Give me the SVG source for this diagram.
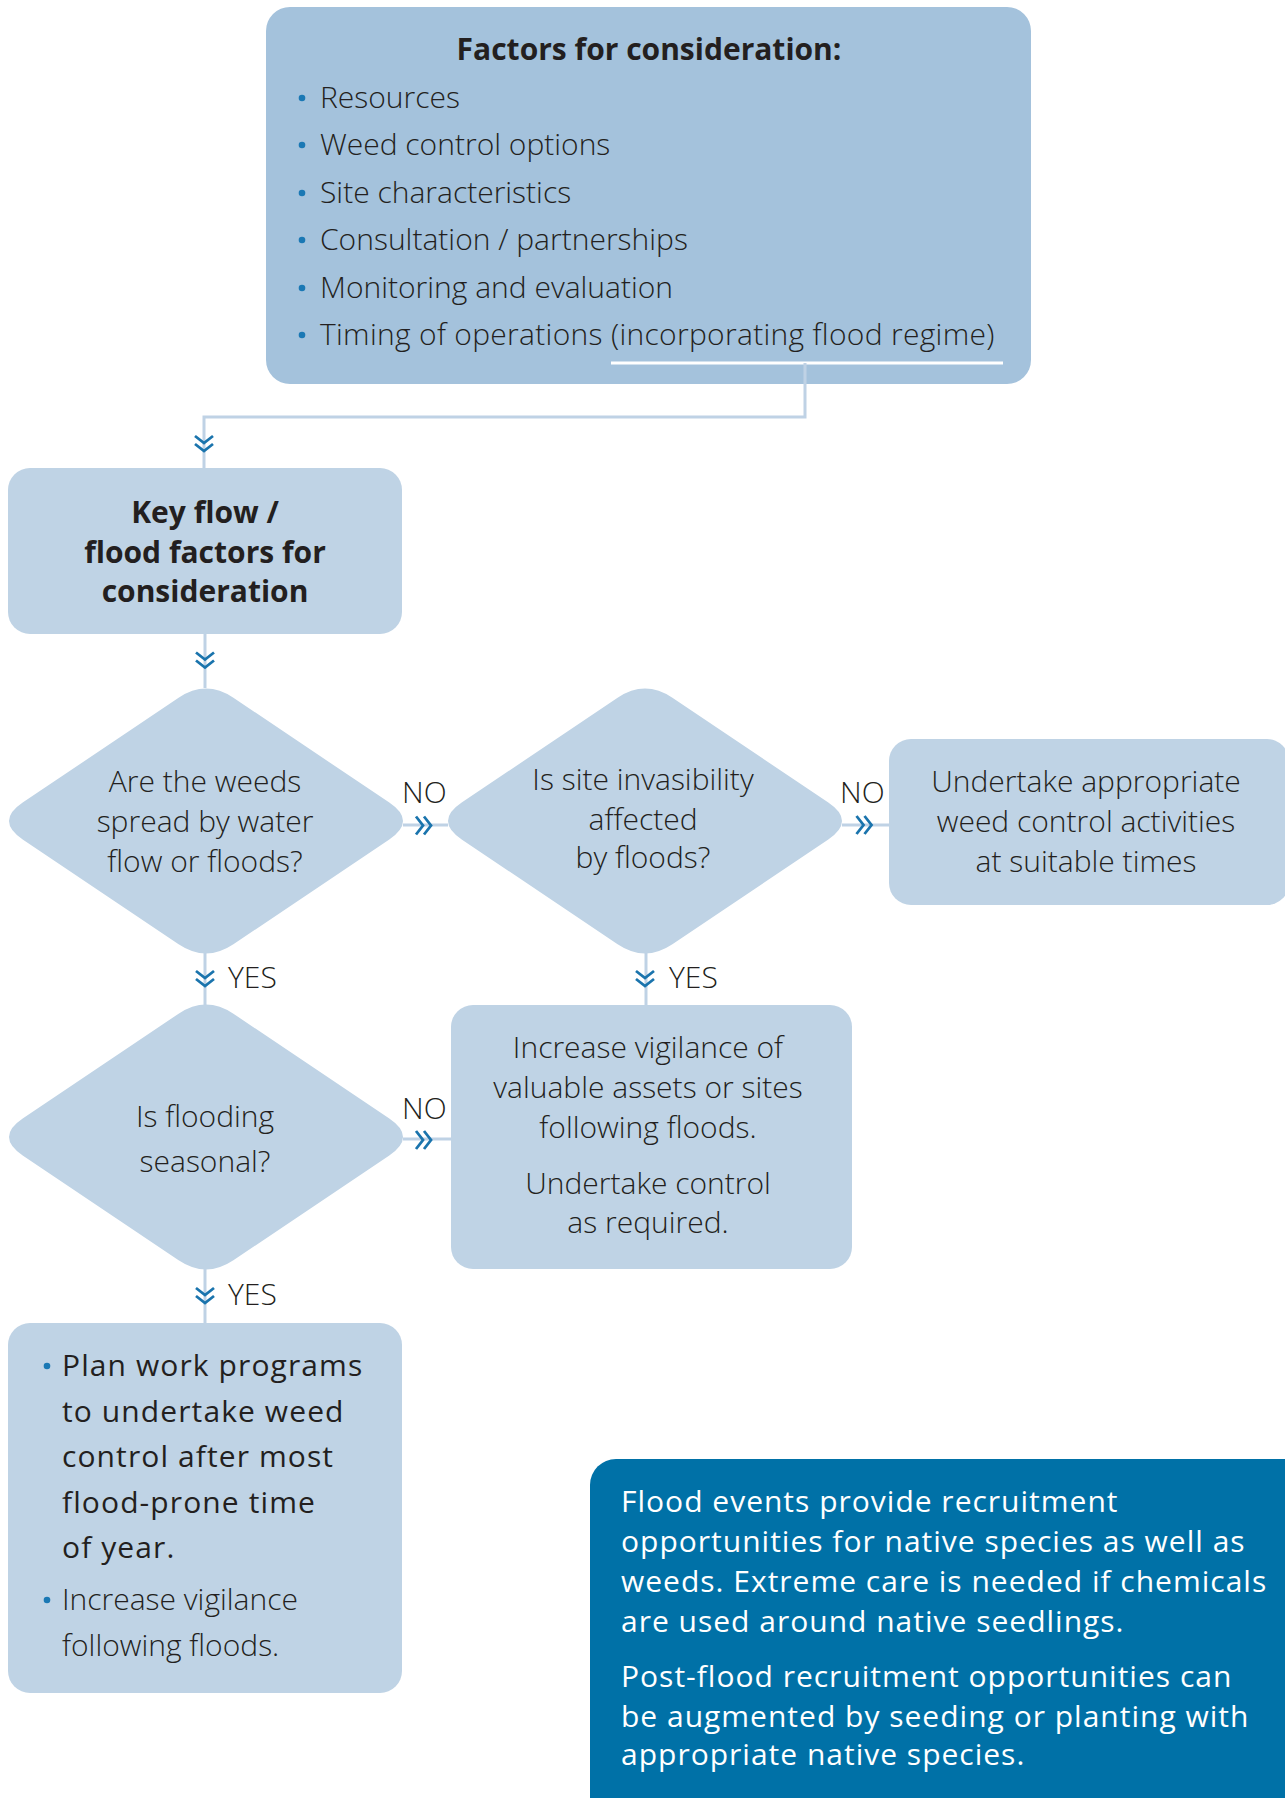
<svg xmlns="http://www.w3.org/2000/svg" width="1285" height="1798" viewBox="0 0 1285 1798">
<style>
.t{font-family:'Open Sans','Liberation Sans',sans-serif;fill:#231f20}
.lt{font-weight:300;font-size:30px}
.md{font-weight:500;font-size:30px;letter-spacing:1.1px}
.bd{font-weight:700;font-size:30px}
.c{text-anchor:middle}
.box{fill:#bfd3e5}
.top{fill:#a4c2dc}
.dot{fill:#1a78b4}
.ln{stroke:#bfd2e5;stroke-width:3;fill:none}
.ch{stroke:#1a74ad;stroke-width:2.8;fill:none}
.wt{font-family:'Open Sans','Liberation Sans',sans-serif;fill:#ffffff;font-weight:400;font-size:30px;letter-spacing:1px}
</style>
<defs>
<path id="chev" d="M-9,-7.5 L0,-0.5 L9,-7.5 M-9,0.5 L0,7.5 L9,0.5"/>
</defs>
<rect width="1285" height="1798" fill="#ffffff"/>

<g id="factors">
<rect class="top" x="266" y="7" width="765" height="377" rx="24"/>
<text class="t bd c" x="649" y="60">Factors for consideration:</text>
<circle class="dot" cx="302" cy="98" r="3.3"/>
<text class="t lt" x="320" y="108">Resources</text>
<circle class="dot" cx="302" cy="145" r="3.3"/>
<text class="t lt" x="320" y="155">Weed control options</text>
<circle class="dot" cx="302" cy="193" r="3.3"/>
<text class="t lt" x="320" y="203">Site characteristics</text>
<circle class="dot" cx="302" cy="240" r="3.3"/>
<text class="t lt" x="320" y="250">Consultation / partnerships</text>
<circle class="dot" cx="302" cy="288" r="3.3"/>
<text class="t lt" x="320" y="298">Monitoring and evaluation</text>
<circle class="dot" cx="302" cy="335" r="3.3"/>
<text class="t lt" x="320" y="345" letter-spacing="0.3">Timing of operations (incorporating flood regime)</text>
</g>

<g id="connectors">
<line x1="611" y1="363" x2="1003" y2="363" stroke="#ffffff" stroke-width="3"/>
<polyline class="ln" points="805,363 805,417 204,417 204,468"/>
<line class="ln" x1="205" y1="634" x2="205" y2="688"/>
<line class="ln" x1="403" y1="825" x2="448" y2="825"/>
<line class="ln" x1="842" y1="825" x2="889" y2="825"/>
<line class="ln" x1="205" y1="953" x2="205" y2="1005"/>
<line class="ln" x1="646" y1="953" x2="646" y2="1005"/>
<line class="ln" x1="403" y1="1139" x2="451" y2="1139"/>
<line class="ln" x1="205" y1="1268" x2="205" y2="1323"/>
<use href="#chev" class="ch" transform="translate(204,443.5)"/>
<use href="#chev" class="ch" transform="translate(205,660)"/>
<use href="#chev" class="ch" transform="translate(423.5,825.5) rotate(-90)"/>
<use href="#chev" class="ch" transform="translate(864,825) rotate(-90)"/>
<use href="#chev" class="ch" transform="translate(205,978.5)"/>
<use href="#chev" class="ch" transform="translate(645,978.5)"/>
<use href="#chev" class="ch" transform="translate(423.5,1140) rotate(-90)"/>
<use href="#chev" class="ch" transform="translate(205,1295.5)"/>
<text class="t lt" x="402" y="803">NO</text>
<text class="t lt" x="840" y="803">NO</text>
<text class="t lt" x="228" y="988">YES</text>
<text class="t lt" x="669" y="988">YES</text>
<text class="t lt" x="402" y="1119">NO</text>
<text class="t lt" x="228" y="1305">YES</text>
</g>

<g id="keyflow">
<rect class="box" x="8" y="468" width="394" height="166" rx="22"/>
<text class="t bd c" x="205" y="523">Key flow /</text>
<text class="t bd c" x="205" y="563">flood factors for</text>
<text class="t bd c" x="205" y="602">consideration</text>
</g>

<g id="q-spread">
<path class="box" transform="translate(206,821)" d="M-183.3,-18.4 L-27.4,-123.3 Q0,-141.7 27.4,-123.3 L183.3,-18.4 Q210.7,0 183.3,18.4 L27.4,123.3 Q0,141.7 -27.4,123.3 L-183.3,18.4 Q-210.7,0 -183.3,-18.4 Z"/>
<text class="t lt c" x="205" y="792">Are the weeds</text>
<text class="t lt c" x="205" y="832">spread by water</text>
<text class="t lt c" x="205" y="872">flow or floods?</text>
</g>

<g id="q-invasibility">
<path class="box" transform="translate(645,821)" d="M-183.3,-18.4 L-27.4,-123.3 Q0,-141.7 27.4,-123.3 L183.3,-18.4 Q210.7,0 183.3,18.4 L27.4,123.3 Q0,141.7 -27.4,123.3 L-183.3,18.4 Q-210.7,0 -183.3,-18.4 Z"/>
<text class="t lt c" x="643" y="790">Is site invasibility</text>
<text class="t lt c" x="643" y="830">affected</text>
<text class="t lt c" x="643" y="868">by floods?</text>
</g>

<g id="undertake">
<rect class="box" x="889" y="739" width="400" height="166" rx="22"/>
<text class="t lt c" x="1086" y="792">Undertake appropriate</text>
<text class="t lt c" x="1086" y="832">weed control activities</text>
<text class="t lt c" x="1086" y="872">at suitable times</text>
</g>

<g id="q-seasonal">
<path class="box" transform="translate(206,1137)" d="M-183.3,-18.4 L-27.4,-123.3 Q0,-141.7 27.4,-123.3 L183.3,-18.4 Q210.7,0 183.3,18.4 L27.4,123.3 Q0,141.7 -27.4,123.3 L-183.3,18.4 Q-210.7,0 -183.3,-18.4 Z"/>
<text class="t lt c" x="205" y="1127">Is flooding</text>
<text class="t lt c" x="205" y="1172">seasonal?</text>
</g>

<g id="vigilance">
<rect class="box" x="451" y="1005" width="401" height="264" rx="22"/>
<text class="t lt c" x="648" y="1058">Increase vigilance of</text>
<text class="t lt c" x="648" y="1098">valuable assets or sites</text>
<text class="t lt c" x="648" y="1138">following floods.</text>
<text class="t lt c" x="648" y="1194">Undertake control</text>
<text class="t lt c" x="648" y="1233">as required.</text>
</g>

<g id="plan">
<rect class="box" x="8" y="1323" width="394" height="370" rx="22"/>
<circle class="dot" cx="47" cy="1366" r="3.3"/>
<text class="t md" x="62" y="1376">Plan work programs</text>
<text class="t md" x="62" y="1422">to undertake weed</text>
<text class="t md" x="62" y="1467">control after most</text>
<text class="t md" x="62" y="1513">flood-prone time</text>
<text class="t md" x="62" y="1558">of year.</text>
<circle class="dot" cx="47" cy="1600" r="3.3"/>
<text class="t lt" x="62" y="1610">Increase vigilance</text>
<text class="t lt" x="62" y="1656">following floods.</text>
</g>

<g id="note">
<rect x="590" y="1459" width="730" height="400" rx="26" fill="#0071a7"/>
<text class="wt" x="621" y="1512">Flood events provide recruitment</text>
<text class="wt" x="621" y="1552">opportunities for native species as well as</text>
<text class="wt" x="621" y="1592">weeds. Extreme care is needed if chemicals</text>
<text class="wt" x="621" y="1632">are used around native seedlings.</text>
<text class="wt" x="621" y="1687">Post-flood recruitment opportunities can</text>
<text class="wt" x="621" y="1727">be augmented by seeding or planting with</text>
<text class="wt" x="621" y="1765">appropriate native species.</text>
</g>
</svg>
